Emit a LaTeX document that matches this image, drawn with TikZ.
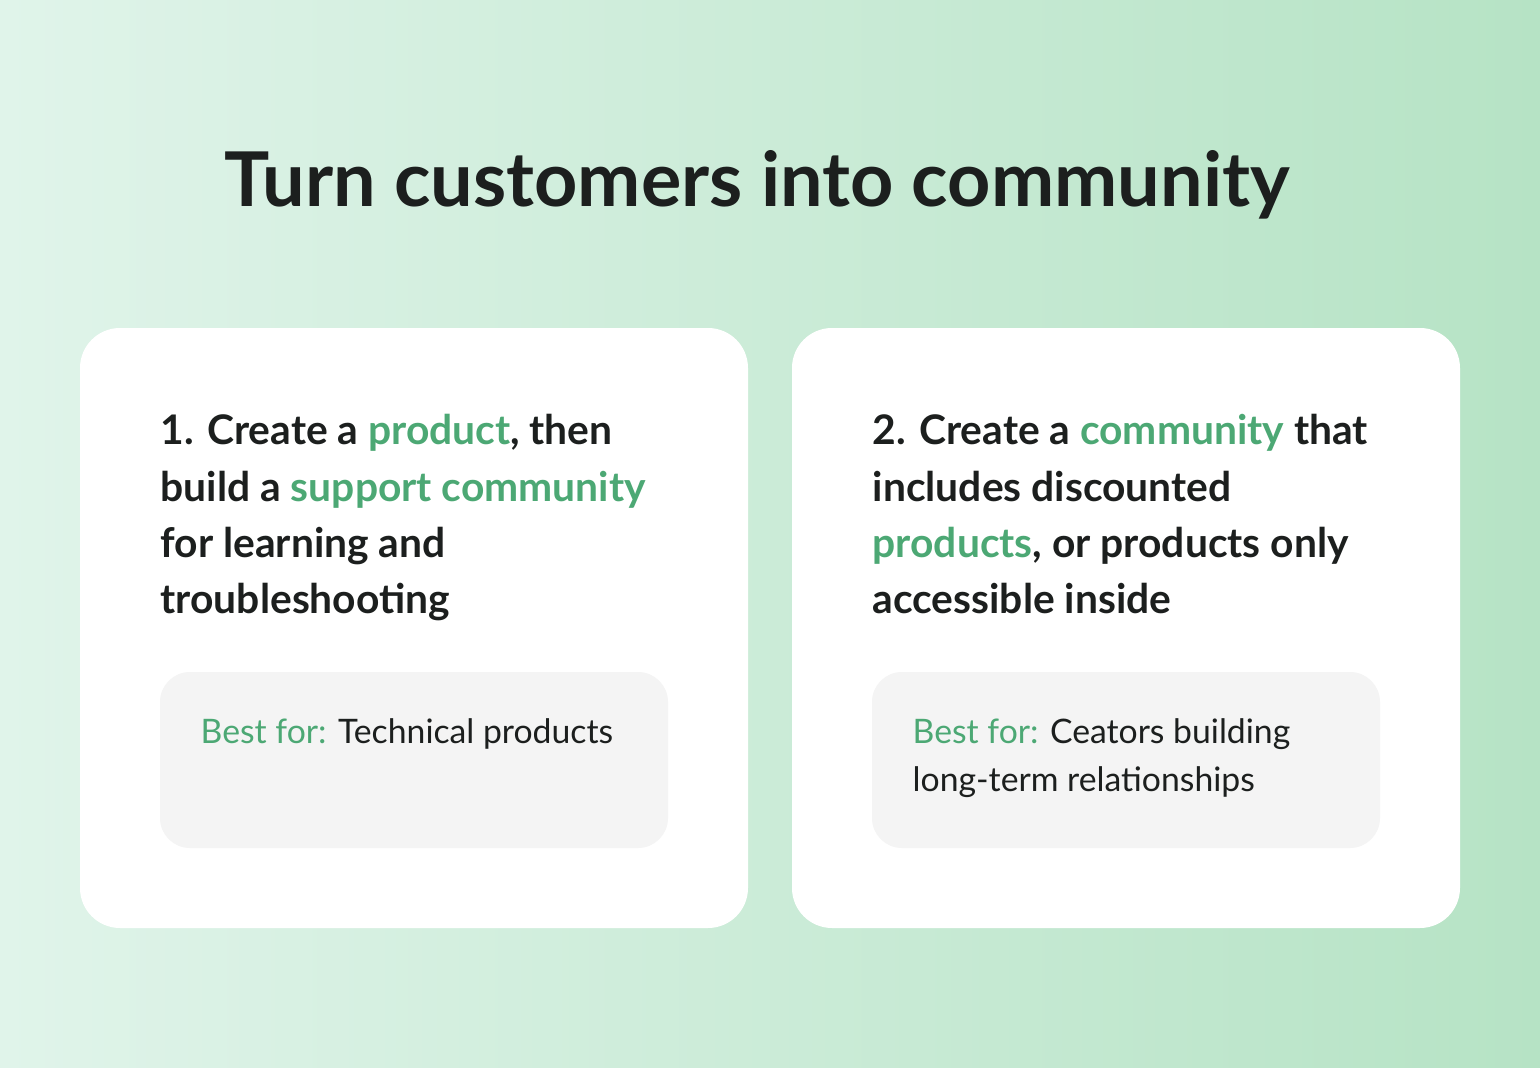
\documentclass[tikz,border=0pt]{standalone}
\usepackage{fontspec}
\setmainfont{Lato}
\definecolor{mintA}{HTML}{E0F4EA}
\definecolor{mintB}{HTML}{B6E3C5}
\definecolor{accent}{HTML}{4CA874}
\definecolor{ink}{HTML}{1C1F1E}
\definecolor{boxgray}{HTML}{F4F4F4}
\newcommand{\hl}[1]{\textcolor{accent}{#1}}
\tikzset{
  card/.style={fill=white, rounded corners=0.4cm},
  bestbox/.style={fill=boxgray, rounded corners=0.3cm},
  headtext/.style={anchor=north west, align=left, text=ink, inner sep=0pt,
    font=\fontsize{11.6}{16}\selectfont\bfseries},
  besttext/.style={anchor=north west, align=left, text=ink, inner sep=0pt,
    font=\fontsize{9.6}{13.7}\selectfont}
}
\begin{document}
\begin{tikzpicture}
    % Background
    \shade[left color=mintA, right color=mintB] (0,0) rectangle (15.4,-10.68);
    \useasboundingbox (0,0) rectangle (15.4,-10.68);

    % Title
    \node[text=ink, font=\fontsize{21.5}{26}\selectfont\bfseries] (title) at (7.57,-1.85) {Turn customers into community};

    % Left card
    \fill[card] (0.8,-3.28) rectangle (7.48,-9.28);
    \fill[bestbox] (1.6,-6.72) rectangle (6.68,-8.48);
    \node[headtext] (lefthead) at (1.6,-4.14) {1. Create a \hl{product}, then\\build a \hl{support community}\\for learning and\\troubleshooting};
    \node[besttext] (leftbest) at (2.0,-7.18) {\hl{Best for:} Technical products};

    % Right card
    \fill[card] (7.92,-3.28) rectangle (14.6,-9.28);
    \fill[bestbox] (8.72,-6.72) rectangle (13.8,-8.48);
    \node[headtext] (righthead) at (8.72,-4.14) {2. Create a \hl{community} that\\includes discounted\\\hl{products}, or products only\\accessible inside};
    \node[besttext] (rightbest) at (9.12,-7.18) {\hl{Best for:} Ceators building\\long-term relationships};
\end{tikzpicture}
\end{document}
